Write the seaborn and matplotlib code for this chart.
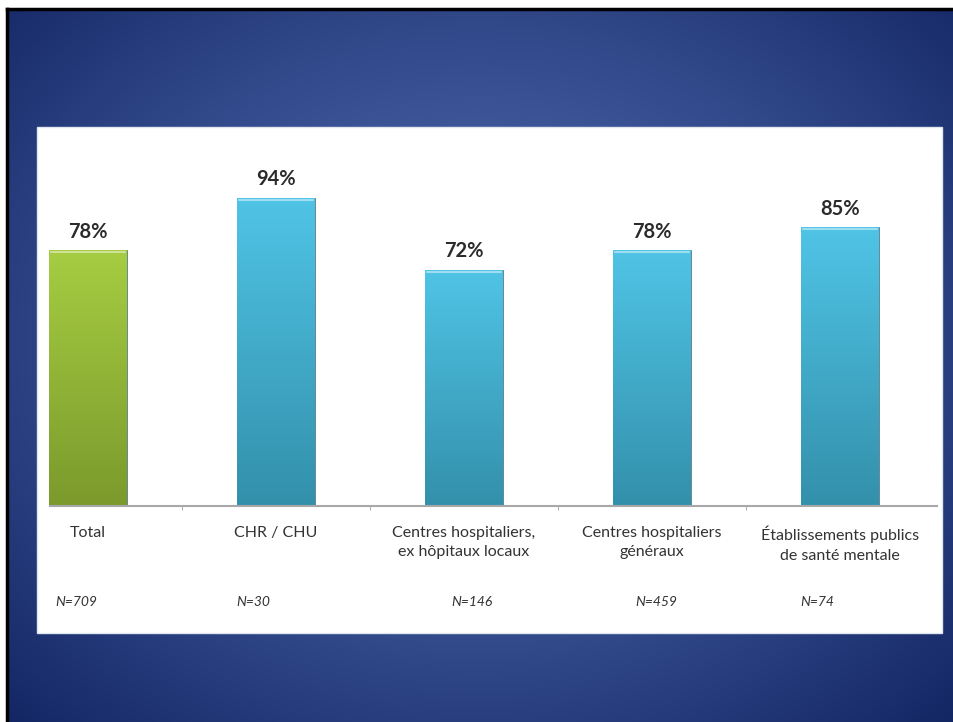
import numpy as np
import pandas as pd
import seaborn as sns
import matplotlib
matplotlib.use('agg')
import matplotlib.pyplot as plt
from matplotlib.patches import Rectangle

# data
categories = ["Total", "CHR / CHU", "Centres hospitaliers,\nex hôpitaux locaux",
              "Centres hospitaliers\ngénéraux", "Établissements publics\nde santé mentale"]
values = [78, 94, 72, 78, 85]
n_labels = ["N=709", "N=30", "N=146", "N=459", "N=74"]
groups = ["total", "type", "type", "type", "type"]

W, H = 954, 722
sns.set_theme(style="white")
plt.rcParams['font.family'] = ['Lato', 'DejaVu Sans']

fig = plt.figure(figsize=(W / 100, H / 100), dpi=100)
fig.patch.set_facecolor("white")

def fx(px):
    return px / W

def fy(py):
    return 1 - py / H

# slide background, radial gradient
bg = fig.add_axes([fx(7), 0, 1 - fx(7), fy(9)], zorder=0)
yy, xx = np.mgrid[0:H - 9, 0:W - 7]
d = np.sqrt(((xx - 470) / 700.0) ** 2 + ((yy - 330) / 560.0) ** 2)
d = np.clip(d, 0, 1)[..., None] ** 1.2
c_in = np.array([82, 110, 178]) / 255.0
c_out = np.array([16, 34, 96]) / 255.0
img = c_in * (1 - d) + c_out * d
bg.imshow(img, aspect="auto", extent=[0, 1, 0, 1], origin="upper")
bg.set_xlim(0, 1)
bg.set_ylim(0, 1)
bg.set_xticks([])
bg.set_yticks([])
for s in ["right", "bottom"]:
    bg.spines[s].set_visible(False)
for s in ["top", "left"]:
    bg.spines[s].set_color("black")
    bg.spines[s].set_linewidth(2.5)

# white panel
bg.add_patch(Rectangle((fx(37 - 7) / fx(W - 7), (H - 633) / (H - 9)),
                       (942 - 37) / (W - 7), (633 - 127) / (H - 9),
                       facecolor="white", edgecolor="#dfe6ee", linewidth=1.0, zorder=3))

# main axes: baseline at y=506px, 100% at 178px, category step 188px, first center 88px
px_per_pct = 3.28
top_px = 150
left_px, right_px = 50, 937
x0_px, step = 88, 188
ax = fig.add_axes([fx(left_px), fy(506), fx(right_px - left_px), (506 - top_px) / H], zorder=2)
ax.set_facecolor("none")

df = pd.DataFrame({"cat": categories, "val": values, "grp": groups})
sns.barplot(data=df, x="cat", y="val", hue="grp", palette={"total": "#93bb36", "type": "#42aacb"},
            width=0.41, dodge=False, legend=False, ax=ax, saturation=1,
            edgecolor="#5a7d8c", linewidth=0.6)

# gradient fill clipped to every bar
grad_cols = {"total": ("#a6cd42", "#7b9a2c"), "type": ("#50c4e6", "#3390ab")}
for patch, g in zip(ax.patches, groups):
    bb = patch.get_bbox()
    top_c = np.array(matplotlib.colors.to_rgb(grad_cols[g][0]))
    bot_c = np.array(matplotlib.colors.to_rgb(grad_cols[g][1]))
    t = np.linspace(0, 1, 256)[:, None, None]
    grad = top_c * (1 - t) + bot_c * t
    grad = np.repeat(grad, 2, axis=1)
    im = ax.imshow(grad, aspect="auto", extent=[bb.x0, bb.x1, bb.y0, bb.y1],
                   origin="upper", zorder=2)
    im.set_clip_path(patch)
    # thin highlight at the top of the bar
    ax.plot([bb.x0 + 0.01, bb.x1 - 0.01], [bb.y1 - 0.6, bb.y1 - 0.6],
            color="white", alpha=0.45, lw=1.5, zorder=3)
ax.set_xlim((left_px - x0_px) / step, (right_px - x0_px) / step)
ax.set_ylim(0, (506 - top_px) / px_per_pct)

# value labels
for i, v in enumerate(values):
    ax.text(i, v + 2.6, f"{v}%", ha="center", va="bottom", fontsize=14.5,
            color="#2b2b2b", fontweight="bold", zorder=4)

# axis styling
sns.despine(ax=ax, left=True, top=True, right=True)
ax.spines["bottom"].set_color("#a8a8a8")
ax.spines["bottom"].set_linewidth(1.5)
ax.set_yticks([])
ax.set_xticks([0.5, 1.5, 2.5, 3.5])
ax.set_xticklabels([])
ax.tick_params(axis="x", bottom=True, length=3, width=0.8, color="#b0b0b0", direction="out")
ax.set_xlabel("")
ax.set_ylabel("")

# category labels and counts
n_offsets = [-0.06, -0.12, 0.04, 0.02, -0.12]
for i, (c, n) in enumerate(zip(categories, n_labels)):
    ax.text(i, -6.0, c, ha="center", va="top", fontsize=11.5, color="#333333",
            linespacing=1.5, clip_on=False)
    ax.text(i + n_offsets[i], -29.2, n, ha="center", va="center", fontsize=10,
            style="italic", color="#333333", clip_on=False)

fig.savefig("out.png", dpi=100)
